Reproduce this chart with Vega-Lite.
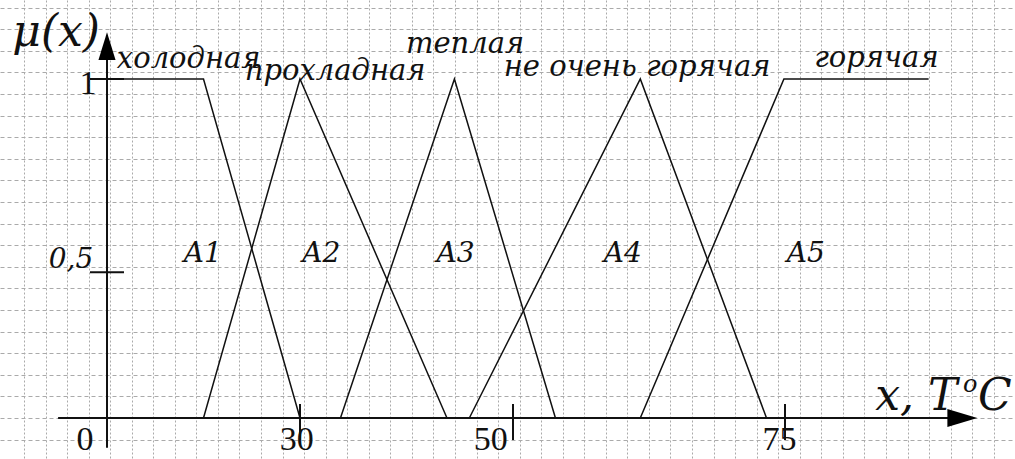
{
  "$schema": "https://vega.github.io/schema/vega-lite/v6.json",
  "width": 1015,
  "height": 459,
  "autosize": {"type": "none"},
  "padding": 0,
  "background": "white",
  "view": {"stroke": null},
  "config": {"font": "DejaVu Serif", "text": {"font": "DejaVu Serif", "color": "#111"}},
  "datasets": {
    "grid": [{"gx": 0, "gy": 0}],
    "mf": [
      {"set": "A1", "t": 0, "mu": 1}, {"set": "A1", "t": 15, "mu": 1}, {"set": "A1", "t": 30, "mu": 0},
      {"set": "A2", "t": 15, "mu": 0}, {"set": "A2", "t": 30, "mu": 1}, {"set": "A2", "t": 43.8, "mu": 0},
      {"set": "A3", "t": 33.8, "mu": 0}, {"set": "A3", "t": 44.5, "mu": 1}, {"set": "A3", "t": 53.9, "mu": 0},
      {"set": "A4", "t": 45.9, "mu": 0}, {"set": "A4", "t": 61.7, "mu": 1}, {"set": "A4", "t": 73.3, "mu": 0},
      {"set": "A5", "t": 61.7, "mu": 0}, {"set": "A5", "t": 74.9, "mu": 1}, {"set": "A5", "t": 88.2, "mu": 1}
    ],
    "names": [
      {"name": "холодная", "t": 12.7, "mu": 1.032},
      {"name": "прохладная", "t": 33.3, "mu": 0.997},
      {"name": "теплая", "t": 45.5, "mu": 1.077},
      {"name": "не очень горячая", "t": 61.4, "mu": 1.009},
      {"name": "горячая", "t": 83.4, "mu": 1.035}
    ],
    "sets": [
      {"label": "A1", "t": 14.9, "mu": 0.46},
      {"label": "A2", "t": 32.0, "mu": 0.46},
      {"label": "A3", "t": 44.6, "mu": 0.46},
      {"label": "A4", "t": 60.1, "mu": 0.46},
      {"label": "A5", "t": 76.9, "mu": 0.46}
    ],
    "xlabels": [
      {"label": "0", "t": -3.4, "mu": -0.094}, {"label": "30", "t": 29.5, "mu": -0.094},
      {"label": "50", "t": 47.9, "mu": -0.094}, {"label": "75", "t": 74.5, "mu": -0.094}
    ],
    "xticks": [{"t": 30, "mu": -0.012}, {"t": 50, "mu": -0.012}, {"t": 75, "mu": -0.012}],
    "yticks": [{"t": 0, "mu": 1}, {"t": 0, "mu": 0.43}],
    "yone": [{"label": "1", "t": -2.95, "mu": 0.955}],
    "yhalf": [{"label": "0,5", "t": -5.6, "mu": 0.442}],
    "yaxis": [{"t": 0, "mu0": -0.088, "mu1": 1.1}],
    "xaxis": [{"mu": 0, "t0": -7.6, "t1": 90}],
    "arrows": [{"dir": "up", "t": 0, "mu": 1.097}, {"dir": "right", "t": 91.3, "mu": 0}]
  },
  "layer": [
    {
      "data": {"name": "grid"},
      "mark": {"type": "point", "opacity": 0},
      "encoding": {
        "x": {"field": "gx", "type": "quantitative",
              "scale": {"domain": [-1.1137, 45.987], "nice": false, "zero": false},
              "axis": {"values": [0,1,2,3,4,5,6,7,8,9,10,11,12,13,14,15,16,17,18,19,20,21,22,23,24,25,26,27,28,29,30,31,32,33,34,35,36,37,38,39,40,41,42,43,44,45],
                       "grid": true, "gridColor": "#aaaaaa", "gridDash": [2, 2], "gridWidth": 1,
                       "labels": false, "ticks": false, "domain": false, "title": null}},
        "y": {"field": "gy", "type": "quantitative",
              "scale": {"domain": [-1.898, 19.352], "nice": false, "zero": false},
              "axis": {"values": [-1,0,1,2,3,4,5,6,7,8,9,10,11,12,13,14,15,16,17,18,19],
                       "grid": true, "gridColor": "#aaaaaa", "gridDash": [4, 3], "gridWidth": 1,
                       "labels": false, "ticks": false, "domain": false, "title": null}}
      }
    },
    {
      "encoding": {
        "x": {"field": "t", "type": "quantitative",
              "scale": {"domain": [-20, 0, 30, 50, 75, 100], "range": [-21.7, 107, 300, 513, 785, 1057], "nice": false, "zero": false},
              "axis": null},
        "y": {"field": "mu", "type": "quantitative",
              "scale": {"domain": [-0.121, 1.233], "nice": false, "zero": false},
              "axis": null}
      },
      "layer": [
        {
          "data": {"name": "yaxis"},
          "mark": {"type": "rule", "color": "#111", "strokeWidth": 2},
          "encoding": {"y": {"field": "mu0", "type": "quantitative"}, "y2": {"field": "mu1"}}
        },
        {
          "data": {"name": "xaxis"},
          "mark": {"type": "rule", "color": "#111", "strokeWidth": 2},
          "encoding": {"x": {"field": "t0", "type": "quantitative"}, "x2": {"field": "t1"}}
        },
        {
          "data": {"name": "yticks"},
          "mark": {"type": "tick", "orient": "horizontal", "size": 34, "thickness": 2, "color": "#111", "opacity": 1}
        },
        {
          "data": {"name": "xticks"},
          "mark": {"type": "tick", "orient": "vertical", "size": 36, "thickness": 2, "color": "#111", "opacity": 1}
        },
        {
          "data": {"name": "mf"},
          "mark": {"type": "line", "color": "#111", "strokeWidth": 1.5},
          "encoding": {"detail": {"field": "set", "type": "nominal"}}
        },
        {
          "data": {"name": "arrows"},
          "mark": {"type": "point", "filled": true, "color": "#000", "opacity": 1, "size": 900},
          "encoding": {
            "shape": {"field": "dir", "type": "nominal", "legend": null,
                      "scale": {"domain": ["up", "right"], "range": ["M0,-0.93L0.57,0.93L-0.57,0.93Z", "M1,0L-1,0.6L-1,-0.6Z"]}}
          }
        },
        {
          "data": {"name": "names"},
          "mark": {"type": "text", "font": "DejaVu Serif", "fontSize": 29, "fontStyle": "italic", "align": "center", "baseline": "alphabetic"},
          "encoding": {"text": {"field": "name"}}
        },
        {
          "data": {"name": "sets"},
          "mark": {"type": "text", "font": "DejaVu Serif", "fontSize": 28, "fontStyle": "italic", "align": "center", "baseline": "alphabetic"},
          "encoding": {"text": {"field": "label"}}
        },
        {
          "data": {"name": "xlabels"},
          "mark": {"type": "text", "font": "Liberation Serif", "fontSize": 34, "align": "center", "baseline": "alphabetic"},
          "encoding": {"text": {"field": "label"}}
        },
        {
          "data": {"name": "yone"},
          "mark": {"type": "text", "font": "Liberation Serif", "fontSize": 34, "align": "center", "baseline": "alphabetic"},
          "encoding": {"text": {"field": "label"}}
        },
        {
          "data": {"name": "yhalf"},
          "mark": {"type": "text", "font": "DejaVu Serif", "fontSize": 28, "fontStyle": "italic", "align": "center", "baseline": "alphabetic"},
          "encoding": {"text": {"field": "label"}}
        },
        {
          "data": {"values": [{"label": "μ(x)", "t": -7.9, "mu": 1.097}]},
          "mark": {"type": "text", "font": "DejaVu Serif", "fontSize": 44, "fontStyle": "italic", "align": "center", "baseline": "alphabetic"},
          "encoding": {"text": {"field": "label"}}
        },
        {
          "data": {"values": [{"label": "x, T", "t": 83.3, "mu": 0.0236}, {"label": "C", "t": 92.74, "mu": 0.0236}]},
          "mark": {"type": "text", "font": "DejaVu Serif", "fontSize": 44, "fontStyle": "italic", "align": "left", "baseline": "alphabetic"},
          "encoding": {"text": {"field": "label"}}
        },
        {
          "data": {"values": [{"label": "o", "t": 91.36, "mu": 0.077}]},
          "mark": {"type": "text", "font": "DejaVu Serif", "fontSize": 24, "fontStyle": "italic", "align": "left", "baseline": "alphabetic"},
          "encoding": {"text": {"field": "label"}}
        }
      ]
    }
  ],
  "resolve": {"scale": {"x": "independent", "y": "independent"}, "axis": {"x": "independent", "y": "independent"}}
}
